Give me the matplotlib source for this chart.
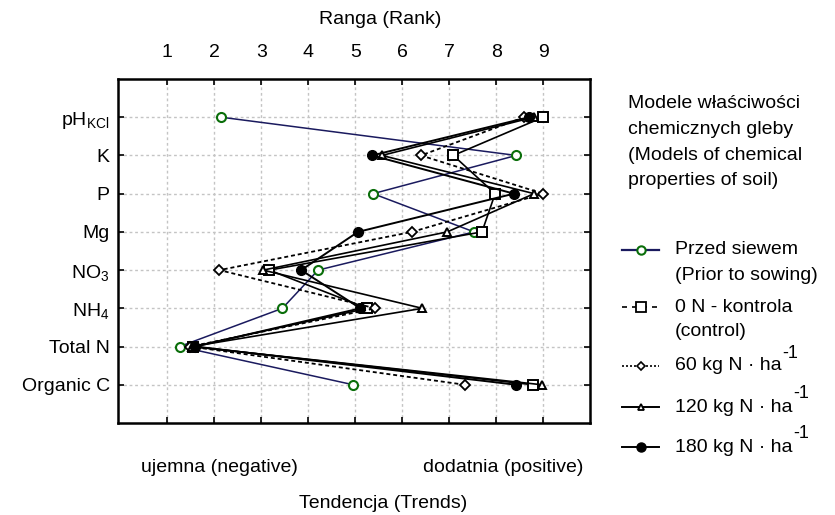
import matplotlib
matplotlib.use('Agg')
import matplotlib.pyplot as plt
from matplotlib.lines import Line2D

plt.rcParams['font.family'] = ['Liberation Sans', 'DejaVu Sans']
plt.rcParams['mathtext.fontset'] = 'custom'
plt.rcParams['mathtext.rm'] = 'Liberation Sans'
plt.rcParams['mathtext.it'] = 'Liberation Sans:italic'
plt.rcParams['mathtext.bf'] = 'Liberation Sans:bold'

# ---- data ----
properties = [r'$\mathregular{pH_{KCl}}$', 'K', 'P', 'Mg',
              r'$\mathregular{NO_3}$', r'$\mathregular{NH_4}$', 'Total N', 'Organic C']
prior = [2.15, 8.43, 5.38, 7.53, 4.21, 3.45, 1.26, 4.96]
n0 = [9.00, 7.09, 7.98, 7.70, 3.17, 5.26, 1.55, 8.79]
n60 = [8.60, 6.40, 9.00, 6.21, 2.11, 5.43, 1.49, 7.34]
n120 = [8.80, 5.57, 8.81, 6.96, 3.04, 6.43, 1.52, 8.98]
n180 = [8.70, 5.36, 8.38, 5.06, 3.85, 5.11, 1.60, 8.43]
rank_ticks = [1, 2, 3, 4, 5, 6, 7, 8, 9]

legend_title = ['Modele właściwości', 'chemicznych gleby',
                '(Models of chemical', 'properties of soil)']
legend_labels = [['Przed siewem', '(Prior to sowing)'],
                 ['0 N - kontrola', '(control)'],
                 ['60 kg N · ha'], ['120 kg N · ha'], ['180 kg N · ha']]

W, H = 835, 515
fig = plt.figure(figsize=(W / 100, H / 100), dpi=100)
ax = fig.add_axes([118 / W, 1 - 423 / H, (590 - 118) / W, (423 - 79) / H])

ypos = list(range(len(properties), 0, -1))
FS = 14

navy = '#1a1a5e'
green = '#0a6e0a'

styles = [
    dict(data=prior, color=navy, ls='-', lw=1.1, marker='o', ms=6.5, mfc='white', mec=green, mew=1.5),
    dict(data=n0, color='black', ls='-', lw=1.2, marker='s', ms=7, mfc='white', mec='black', mew=1.4),
    dict(data=n60, color='black', ls=(0, (2.2, 1.6)), lw=1.3, marker='D', ms=5, mfc='white', mec='black', mew=1.3),
    dict(data=n120, color='black', ls='-', lw=1.2, marker='^', ms=5.5, mfc='white', mec='black', mew=1.4),
    dict(data=n180, color='black', ls='-', lw=1.4, marker='o', ms=7, mfc='black', mec='black', mew=1.0),
]
for s in styles:
    ax.plot(s['data'], ypos, color=s['color'], ls=s['ls'], lw=s['lw'], marker=s['marker'],
            ms=s['ms'], mfc=s['mfc'], mec=s['mec'], mew=s['mew'], zorder=3)

ax.set_xlim(-0.05, 10.0)
ax.set_ylim(0, 9)
ax.set_xticks(rank_ticks)
ax.set_yticks(ypos)
ax.set_yticklabels(properties, fontsize=FS)
ax.xaxis.tick_top()
ax.tick_params(axis='x', which='both', top=True, bottom=True, labeltop=True, labelbottom=False,
               direction='in', length=4, width=1.2, pad=13, labelsize=FS)
ax.tick_params(axis='y', which='both', left=True, right=True, direction='in', length=4, width=1.2,
               pad=6, labelsize=FS)
ax.grid(True, color='#c4c4c4', ls=(0, (2, 2)), lw=1.0)
ax.set_axisbelow(True)
for sp in ax.spines.values():
    sp.set_linewidth(1.8)

fig.text(380 / W, 1 - 20 / H, 'Ranga (Rank)', ha='center', va='center', fontsize=FS)
fig.text(219 / W, 1 - 467 / H, 'ujemna (negative)', ha='center', va='center', fontsize=FS)
fig.text(503 / W, 1 - 467 / H, 'dodatnia (positive)', ha='center', va='center', fontsize=FS)
fig.text(383 / W, 1 - 504 / H, 'Tendencja (Trends)', ha='center', va='center', fontsize=FS)

# ---- legend (manual) ----
for i, line in enumerate(legend_title):
    fig.text(628 / W, 1 - (104 + 25.5 * i) / H, line, ha='left', va='center', fontsize=FS)

handle_styles = [
    dict(color=navy, ls='-', lw=1.6, marker='o', ms=6, mfc='white', mec=green, mew=1.5),
    dict(color='black', ls=(0, (3, 3)), lw=1.2, marker='s', ms=6.5, mfc='white', mec='black', mew=1.3),
    dict(color='black', ls=(0, (1.2, 1.2)), lw=1.2, marker='D', ms=4.5, mfc='white', mec='black', mew=1.2),
    dict(color='black', ls='-', lw=1.4, marker='^', ms=5, mfc='white', mec='black', mew=1.3),
    dict(color='black', ls='-', lw=1.4, marker='o', ms=6.5, mfc='black', mec='black', mew=1.0),
]
entry_y = [250, 307, 366, 407, 447]
for hs, lab, yy in zip(handle_styles, legend_labels, entry_y):
    yf = 1 - yy / H
    fig.add_artist(Line2D([622 / W, 659 / W], [yf, yf], transform=fig.transFigure,
                          color=hs['color'], ls=hs['ls'], lw=hs['lw']))
    fig.add_artist(Line2D([640.5 / W], [yf], transform=fig.transFigure, ls='none',
                          marker=hs['marker'], ms=hs['ms'], mfc=hs['mfc'], mec=hs['mec'], mew=hs['mew']))
    t = None
    for j, l in enumerate(lab):
        t = fig.text(675 / W, 1 - (yy + 25 * j) / H, l, ha='left', va='center', fontsize=FS)
    if len(lab) == 1:
        ax.annotate('-1', xy=(1, 0.5), xycoords=t, xytext=(1, 13), textcoords='offset pixels',
                    ha='left', va='center', fontsize=FS - 1, annotation_clip=False)

fig.savefig('out.png', dpi=100)
